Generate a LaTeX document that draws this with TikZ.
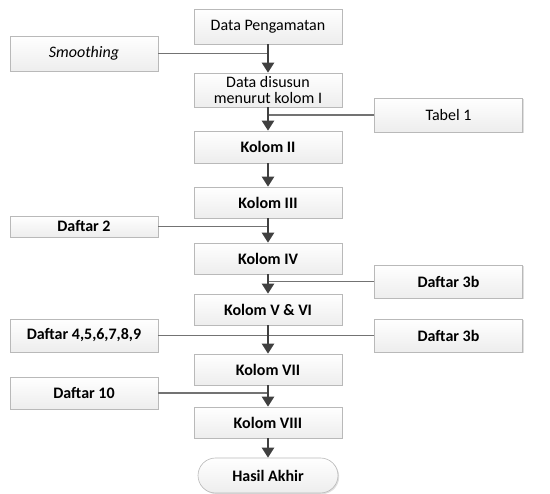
\documentclass[tikz,border=0pt]{standalone}
\usepackage{fontspec}
\setmainfont{Carlito}
\usetikzlibrary{shadows,shapes.misc,arrows.meta}
\begin{document}
\begin{tikzpicture}[x=1pt,y=-1pt,
  box/.style={draw=gray!55, line width=0.6pt, top color=white, bottom color=gray!14,
    drop shadow={shadow xshift=1.2pt, shadow yshift=-1.2pt, opacity=0.25, fill=gray},
    minimum width=148pt, inner sep=1pt, align=center,
    font=\fontsize{16}{16.5}\selectfont},
  bx/.style={box, font=\fontsize{16}{16.5}\selectfont\bfseries},
  arr/.style={draw=black!75, line width=2.2pt, -{Triangle[width=12pt,length=10pt]}},
  side/.style={draw=black!55, line width=1.3pt}]
\useasboundingbox (0,0) rectangle (550,494);
% central column
\node[box, minimum height=35pt] (dp) at (268,26.5) {Data Pengamatan};
\node[box, minimum height=34pt] (dd) at (268,90) {Data disusun\\menurut kolom I};
\node[bx, minimum height=32pt] (k2) at (268,147) {Kolom II};
\node[bx, minimum height=31pt] (k3) at (268,202.5) {Kolom III};
\node[bx, minimum height=31pt] (k4) at (268,258.5) {Kolom IV};
\node[bx, minimum height=31pt] (k56) at (268,309.5) {Kolom V \& VI};
\node[bx, minimum height=31pt] (k7) at (268,369.5) {Kolom VII};
\node[bx, minimum height=31pt] (k8) at (268,422.5) {Kolom VIII};
\node[bx, rounded rectangle, minimum width=142pt, minimum height=35pt] (ha) at (268,475.5) {Hasil Akhir};
% side boxes
\node[box, minimum height=35pt] (sm) at (84,53.5) {\itshape Smoothing};
\node[box, minimum height=34pt] (t1) at (448.5,115) {Tabel 1};
\node[bx, minimum height=21pt] (d2) at (84,226.5) {Daftar 2};
\node[bx, minimum height=33pt] (d3a) at (448.5,281.5) {Daftar 3b};
\node[bx, minimum height=33pt] (d49) at (84,335.5) {Daftar 4,5,6,7,8,9};
\node[bx, minimum height=33pt] (d3b) at (448.5,335.5) {Daftar 3b};
\node[bx, minimum height=32pt] (d10) at (84,393) {Daftar 10};
% side connectors
\draw[side] (sm.east) -- (sm.east -| dp.south);
\draw[side] (t1.west) -- (t1.west -| dd.south);
\draw[side] (d2.east) -- (d2.east -| k3.south);
\draw[side] (d3a.west) -- (d3a.west -| k4.south);
\draw[side] (d49.east) -- (d3b.west);
\draw[side] (d10.east) -- (d10.east -| k7.south);
% main arrows
\draw[arr] (dp.south) -- (dd.north);
\draw[arr] (dd.south) -- (k2.north);
\draw[arr] (k2.south) -- (k3.north);
\draw[arr] (k3.south) -- (k4.north);
\draw[arr] (k4.south) -- (k56.north);
\draw[arr] (k56.south) -- (k7.north);
\draw[arr] (k7.south) -- (k8.north);
\draw[arr] (k8.south) -- (ha.north);
\end{tikzpicture}
\end{document}
